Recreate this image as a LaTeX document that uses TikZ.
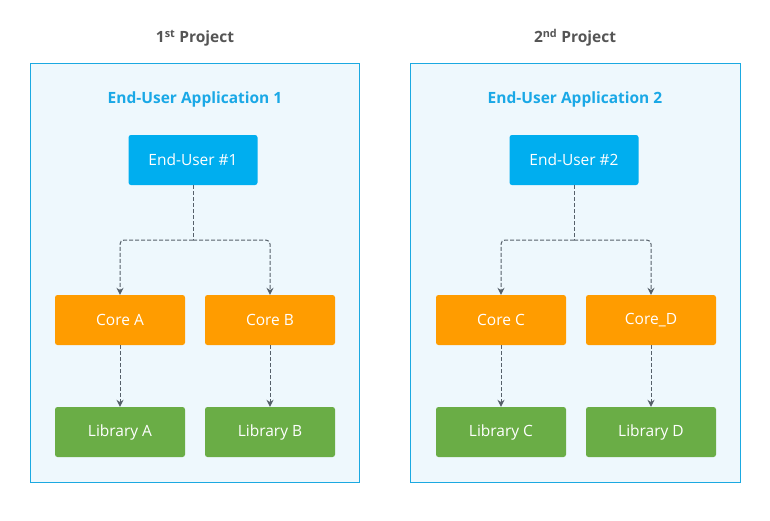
\documentclass[tikz,border=0pt]{standalone}
\usepackage{fontspec}
\setmainfont{Open Sans}
\usetikzlibrary{arrows.meta}
\definecolor{panelfill}{HTML}{EEF8FD}
\definecolor{panelline}{HTML}{1BA9E1}
\definecolor{apptext}{HTML}{1AA8E6}
\definecolor{userblue}{HTML}{00AEEF}
\definecolor{coreorange}{HTML}{FF9C00}
\definecolor{libgreen}{HTML}{6AAD46}
\definecolor{linegray}{HTML}{56606A}
\definecolor{titlegray}{HTML}{555555}
\tikzset{
  panel/.style={draw=panelline, fill=panelfill, line width=1pt},
  boxbase/.style={rounded corners=2.5pt, minimum width=130pt, minimum height=50pt, text=white, font=\fontsize{15.5}{18}\selectfont, inner sep=0pt},
  userbox/.style={boxbase, fill=userblue, minimum width=129pt},
  corebox/.style={boxbase, fill=coreorange},
  libbox/.style={boxbase, fill=libgreen},
  apptitle/.style={text=apptext, font=\fontsize{15.5}{18}\selectfont\bfseries},
  projtitle/.style={text=titlegray, font=\fontsize{15.5}{18}\selectfont\bfseries},
  dep/.style={draw=linegray, line width=1pt, dash pattern=on 4pt off 2pt, rounded corners=4pt, -{Stealth[length=7pt,width=7pt]}},
  depline/.style={draw=linegray, line width=1pt, dash pattern=on 4pt off 2pt}
}
\begin{document}
\begin{tikzpicture}[x=1pt,y=-1pt]
\useasboundingbox (0,0) rectangle (770,520);
% panels
\draw[panel] (30,63) rectangle (359,482);
\draw[panel] (410,63) rectangle (740,482);
% titles
\node[projtitle] (t1) at (195,38) {1\textsuperscript{st} Project};
\node[projtitle] (t2) at (575,38) {2\textsuperscript{nd} Project};
\node[apptitle] (a1) at (195,99) {End-User Application 1};
\node[apptitle] (a2) at (575,99) {End-User Application 2};
% boxes left
\node[userbox] (u1) at (193,160) {End-User \#1};
\node[corebox] (ca) at (120,320) {Core A};
\node[corebox] (cb) at (270,320) {Core B};
\node[libbox] (la) at (120,432) {Library A};
\node[libbox] (lb) at (270,432) {Library B};
% boxes right
\node[userbox] (u2) at (574,160) {End-User \#2};
\node[corebox] (cc) at (501,320) {Core C};
\node[corebox] (cd) at (651,320) {Core\_D};
\node[libbox] (lc) at (501,432) {Library C};
\node[libbox] (ld) at (651,432) {Library D};
% junctions
\coordinate (j1) at (u1.south |- 0,240);
\coordinate (j2) at (u2.south |- 0,240);
% connectors left
\draw[depline] (u1.south) -- (j1);
\draw[dep] (j1) -- (ca.north |- j1) -- (ca.north);
\draw[dep] (j1) -- (cb.north |- j1) -- (cb.north);
\draw[dep] (ca.south) -- (la.north);
\draw[dep] (cb.south) -- (lb.north);
% connectors right
\draw[depline] (u2.south) -- (j2);
\draw[dep] (j2) -- (cc.north |- j2) -- (cc.north);
\draw[dep] (j2) -- (cd.north |- j2) -- (cd.north);
\draw[dep] (cc.south) -- (lc.north);
\draw[dep] (cd.south) -- (ld.north);
\end{tikzpicture}
\end{document}
